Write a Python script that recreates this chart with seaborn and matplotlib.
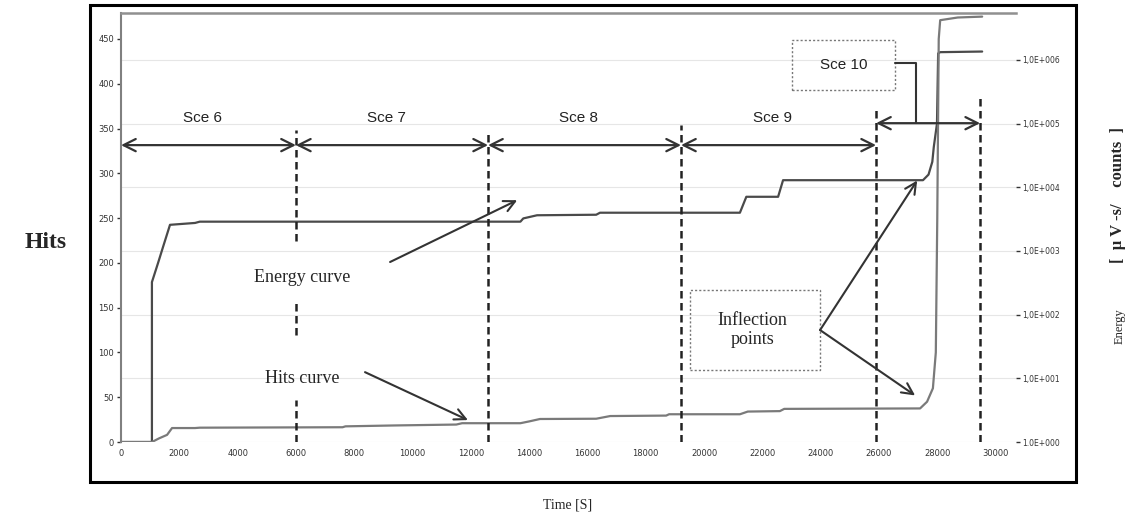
import numpy as np
import pandas as pd
import matplotlib
matplotlib.use("Agg")
import matplotlib.pyplot as plt
from matplotlib.patches import Rectangle
import seaborn as sns

# ---------------- data ----------------
# hits curve (left axis)
hits_time = [0, 1060, 1300, 1580, 1750, 2540, 2700, 7600, 7700, 9400, 11500, 11700,
             13700, 14000, 14370, 16300, 16780, 18700, 18800, 21230, 21500, 22600,
             22750, 27410, 27650, 27850, 27950, 28000, 28050, 28100, 28700, 29540]
hits_count = [0, 0, 4, 8, 15.6, 15.6, 16, 16.5, 17.5, 18.5, 19.5, 21,
              21, 23, 25.7, 26, 29, 29.5, 31, 31, 34, 34.5,
              37, 37.5, 45, 60, 100, 250, 450, 471, 474, 475]

# energy curve (right axis, log scale, uV-s/counts)
energy_time = [0, 1060, 1060, 1270, 1440, 1680, 2540, 2700, 13700, 13800, 14270,
               16300, 16430, 21230, 21450, 22540, 22710, 27510, 27700, 27830,
               27880, 27990, 28030, 28100, 29540]
energy_value = [1, 1, 324, 646, 1150, 2570, 2750, 2880, 2880, 3240, 3630,
                3700, 3980, 3980, 7080, 7080, 12900, 12900, 15800, 25100,
                42700, 100000, 1260000, 1320000, 1350000]

# scenario borders (time, s)
sce_bounds = [0, 6000, 12590, 19210, 25900, 29470]
sce_names = ['Sce 6', 'Sce 7', 'Sce 8', 'Sce 9', 'Sce 10']

x_ticks = list(range(0, 30001, 2000))
hits_ticks = list(range(0, 451, 50))
energy_ticks = [1e0, 1e1, 1e2, 1e3, 1e4, 1e5, 1e6]
energy_labels = ['1.0E+000', '1,0E+001', '1,0E+002', '1,0E+003',
                 '1,0E+004', '1,0E+005', '1,0E+006']

# ---------------- style ----------------
sns.set_theme(style="white")
plt.rcParams['font.family'] = ['DejaVu Sans']
SERIF = ['Liberation Serif', 'DejaVu Serif']
SANS = ['Liberation Sans', 'DejaVu Sans']

fig = plt.figure(figsize=(11.3, 5.21), dpi=100)
ax = fig.add_axes([0.1071, 0.1516, 0.792, 0.8234])
ax2 = ax.twinx()
# hits axis (with all the annotations) on top of the energy axis
ax.set_zorder(ax2.get_zorder() + 1)
ax.patch.set_visible(False)

# energy on log axis, aligned so that 1E0 sits on hits = 0
ax2.set_yscale('log')
ax.set_xlim(0, 30700)
ax.set_ylim(0, 479)
ax2.set_ylim(1, 10 ** 6.735)

ax2.grid(axis='y', color='#e6e6e6', lw=0.8)
ax2.grid(axis='x', color='#e6e6e6', lw=0.8)
ax2.set_axisbelow(True)

hits_df = pd.DataFrame({'time': hits_time, 'hits': hits_count})
energy_df = pd.DataFrame({'time': energy_time, 'energy': energy_value})

sns.lineplot(data=hits_df, x='time', y='hits', ax=ax, color='#7a7a7a', lw=1.6,
             estimator=None, sort=False)
sns.lineplot(data=energy_df, x='time', y='energy', ax=ax2, color='#4a4a4a', lw=1.6,
             estimator=None, sort=False)

# axes cosmetics
for a in (ax, ax2):
    a.set_xlabel('')
    a.set_ylabel('')
    for s in ('bottom', 'right', 'left', 'top'):
        a.spines[s].set_visible(False)
ax.spines['left'].set_visible(True)
ax.spines['left'].set_color('#808080')
ax.spines['left'].set_linewidth(1.5)
ax.spines['top'].set_visible(True)
ax.spines['top'].set_color('#909090')
ax.spines['top'].set_linewidth(1.8)

ax.set_xticks(x_ticks)
ax2.set_xticks(x_ticks)
ax.set_yticks(hits_ticks)
ax.tick_params(axis='both', labelsize=6, length=3, width=1, color='#333333',
               direction='out', pad=2, labelcolor='#333333')
ax2.set_yticks(energy_ticks)
ax2.set_yticklabels(energy_labels)
ax2.minorticks_off()
ax2.tick_params(axis='y', labelsize=5.5, length=3, width=1, color='#333333',
                direction='out', pad=1.5, labelcolor='#333333')

# ---------------- scenario markers ----------------
dash_kw = dict(color='#222222', lw=1.8, ls=(0, (3, 1.8)))
dash_segments = [(6000, 0, 47), (6000, 119, 158), (6000, 225, 348),
                 (12590, 0, 348), (19210, 0, 354), (25900, 0, 374), (29470, 0, 387)]
for xs, y0, y1 in dash_segments:
    ax.plot([xs, xs], [y0, y1], **dash_kw)

arrow_y = 331.5
for i in range(4):
    ax.annotate('', xy=(sce_bounds[i], arrow_y), xytext=(sce_bounds[i + 1], arrow_y),
                arrowprops=dict(arrowstyle='<->', color='#333333', lw=1.6,
                                mutation_scale=22, shrinkA=0, shrinkB=0))
    xm = (sce_bounds[i] + sce_bounds[i + 1]) / 2 - 200
    ax.text(xm, 362, sce_names[i], ha='center', va='center', fontsize=11,
            family=SANS, color='#222222')

# Sce 10
ax.annotate('', xy=(sce_bounds[4], 356), xytext=(sce_bounds[5], 356),
            arrowprops=dict(arrowstyle='<->', color='#333333', lw=1.6,
                            mutation_scale=22, shrinkA=0, shrinkB=0))
ax.add_patch(Rectangle((23020, 393), 3530, 56, fill=False, ec='#777777',
                       ls=(0, (1.5, 1.5)), lw=1.0))
ax.text(24790, 421, sce_names[4], ha='center', va='center', fontsize=11,
        family=SANS, color='#222222')
ax.plot([26550, 27260, 27260], [423, 423, 356], color='#333333', lw=1.5)

# ---------------- curve annotations ----------------
ann_kw = dict(arrowstyle='->', color='#333333', lw=1.5, mutation_scale=20,
              shrinkA=0, shrinkB=0)
ax.text(6200, 184, 'Energy curve', ha='center', va='center', fontsize=13, family=SERIF)
ax.annotate('', xy=(13590, 270), xytext=(9230, 201), arrowprops=ann_kw)
ax.text(6200, 71, 'Hits curve', ha='center', va='center', fontsize=13, family=SERIF)
ax.annotate('', xy=(11900, 24.5), xytext=(8370, 78), arrowprops=ann_kw)

ax.add_patch(Rectangle((19520, 80), 4460, 90, fill=False, ec='#777777',
                       ls=(0, (1.5, 1.5)), lw=1.0))
ax.text(21650, 125, 'Inflection\npoints', ha='center', va='center', fontsize=13,
        family=SERIF, linespacing=1.1)
ax.annotate('', xy=(27310, 292), xytext=(23980, 125), arrowprops=ann_kw)
ax.annotate('', xy=(27240, 52), xytext=(23980, 125), arrowprops=ann_kw)

# ---------------- figure level labels and frame ----------------
fig.text(0.040, 0.534, 'Hits', ha='center', va='center', fontsize=17,
         fontweight='bold', family=SERIF)
fig.text(0.502, 0.031, 'Time [S]', ha='center', va='center', fontsize=10, family=SERIF)
fig.text(0.991, 0.375, 'Energy', ha='center', va='center', fontsize=9,
         rotation=90, family=SERIF)
fig.text(0.989, 0.625, '[  \u00b5 V -s/    counts  ]', ha='center', va='center',
         fontsize=12, rotation=90, family=SERIF, fontweight='bold')

fig.add_artist(Rectangle((0.0796, 0.075), 0.8726, 0.915, transform=fig.transFigure,
                         fill=False, ec='black', lw=2.2))

fig.savefig('out.png', dpi=100)
